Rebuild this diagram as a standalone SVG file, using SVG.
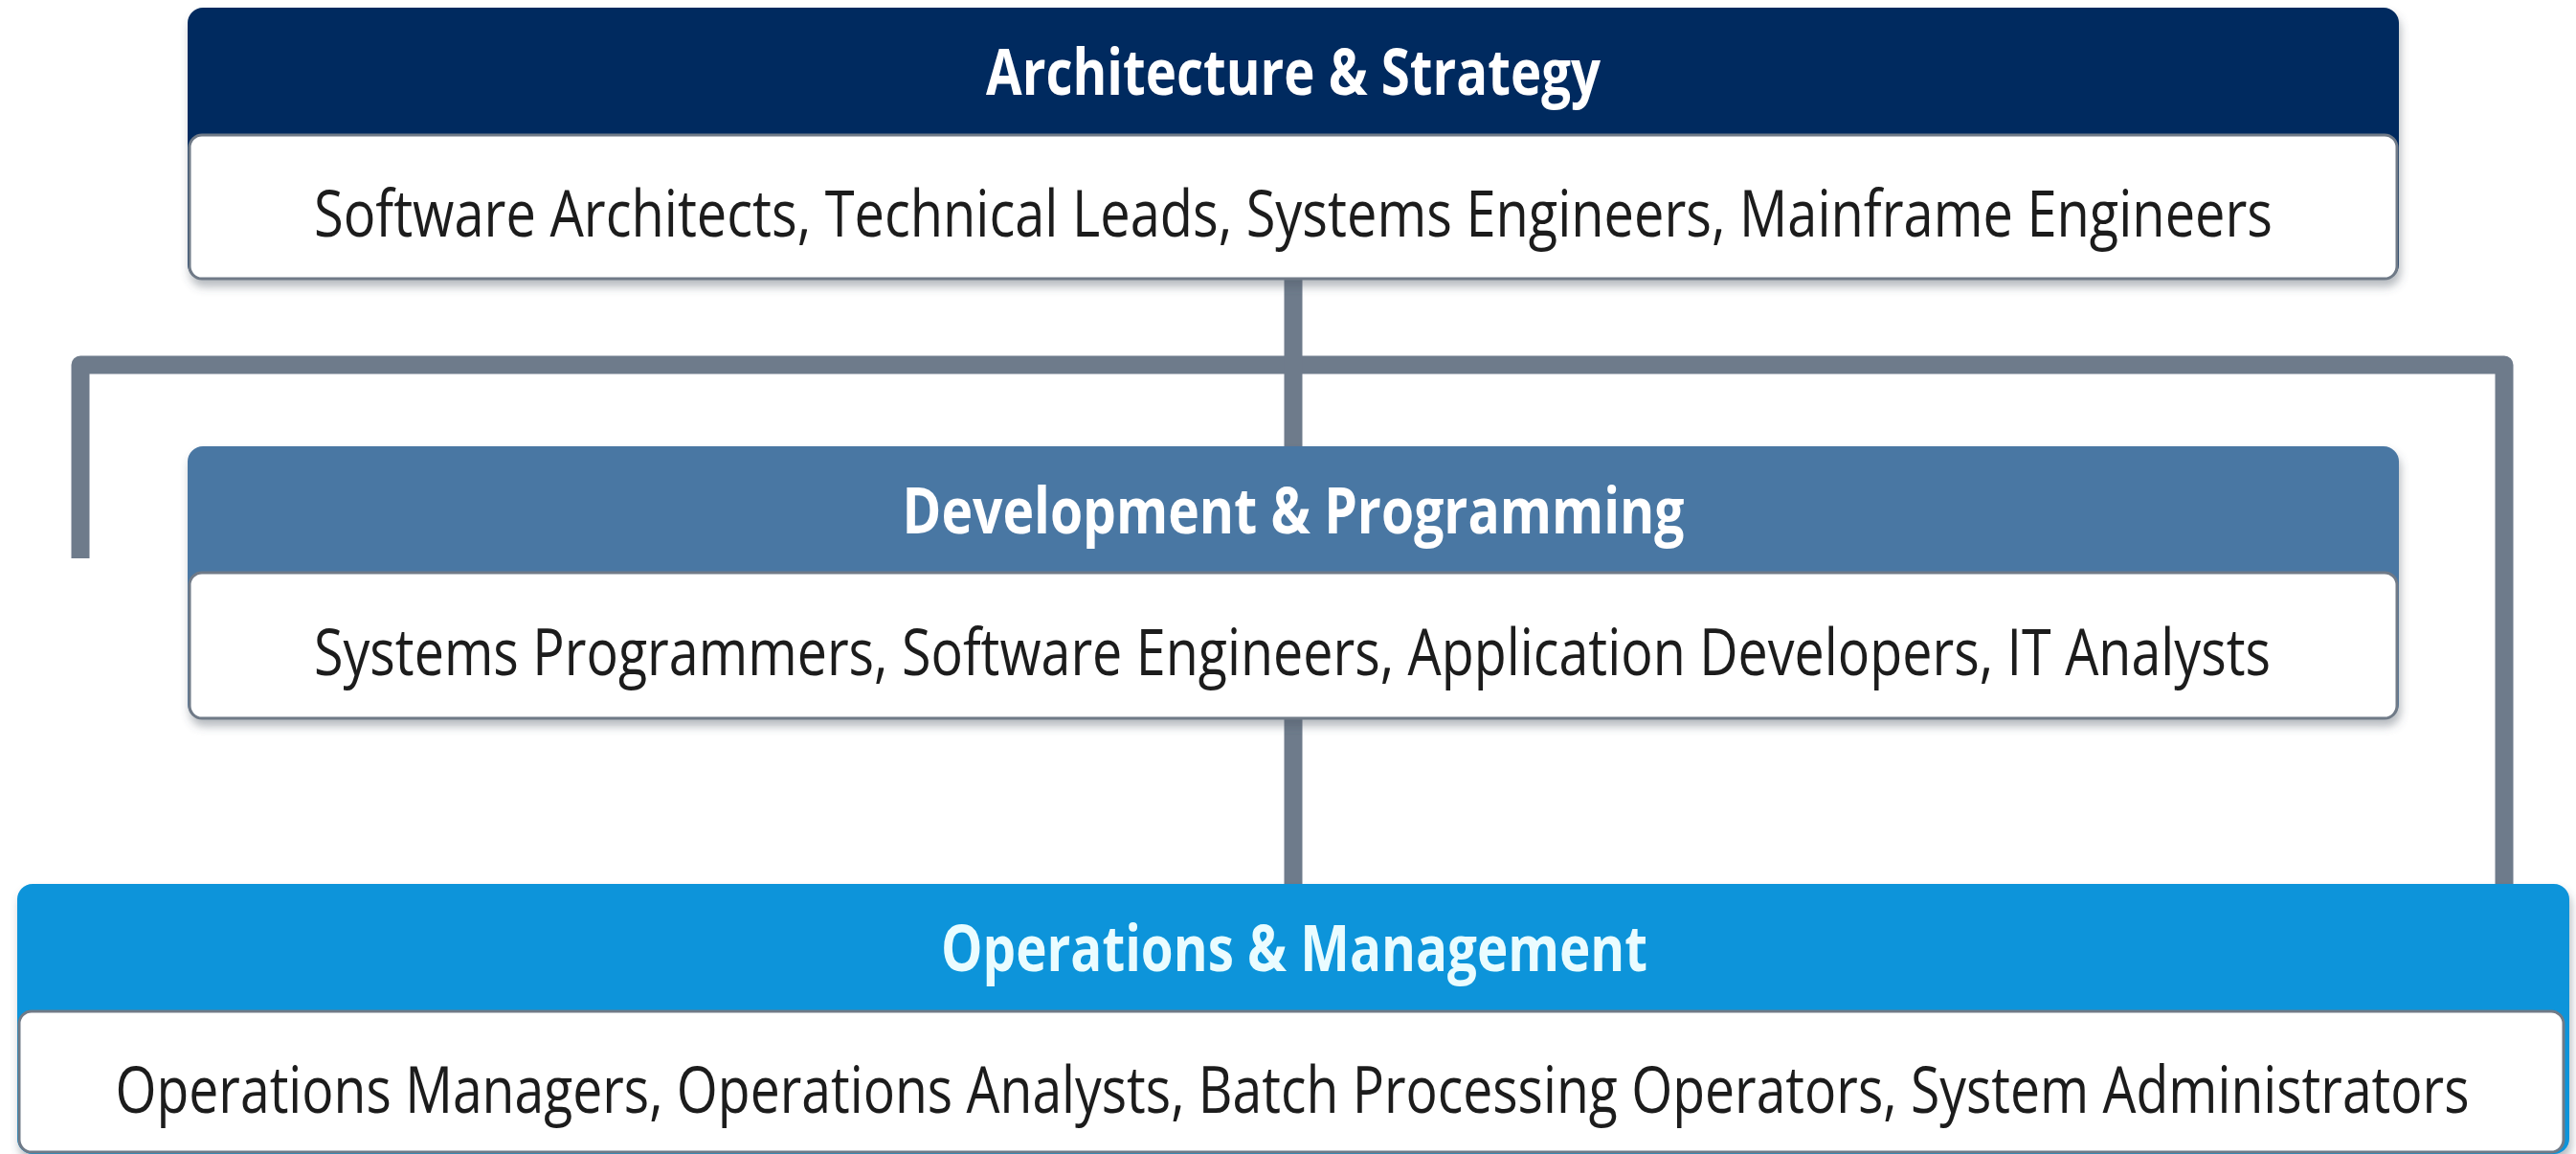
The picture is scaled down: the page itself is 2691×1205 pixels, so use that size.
<svg xmlns="http://www.w3.org/2000/svg" width="2691" height="1205" viewBox="0 0 2691 1205">
  <defs>
    <filter id="shadow" x="-5%" y="-20%" width="110%" height="150%">
      <feDropShadow dx="2" dy="7" stdDeviation="5" flood-color="#4a5460" flood-opacity="0.4"/>
    </filter>
    <style>
      .conn { fill: none; stroke: #6e7b8b; stroke-width: 19; stroke-linejoin: round; stroke-linecap: butt; }
      .body { fill: #ffffff; stroke: #6f7a87; stroke-width: 3; }
      .title { font-family: "Open Sans", "Noto Sans", "Liberation Sans", sans-serif; font-weight: 700; font-size: 57px; fill: #ffffff; text-anchor: middle; }
      .roles { font-family: "Open Sans", "Noto Sans", "Liberation Sans", sans-serif; font-weight: 400; font-size: 58px; fill: #1c1c1c; text-anchor: middle; }
    </style>
  </defs>
  <rect width="2691" height="1205" fill="#ffffff"/>

  <g id="connectors">
    <path class="conn" d="M84,583 V381 H2616 V923"/>
    <path class="conn" d="M1351,292 V466"/>
    <path class="conn" d="M1351,751 V923"/>
  </g>

  <g id="node-architecture" filter="url(#shadow)">
    <rect x="196" y="8" width="2310" height="284" rx="16" fill="#022a5e"/>
    <rect class="body" x="198" y="141" width="2306" height="150" rx="13"/>
    <text class="title" transform="translate(1351,99) scale(1,1.16)" x="0" y="0" textLength="642" lengthAdjust="spacingAndGlyphs">Architecture &amp; Strategy</text>
    <text class="roles" transform="translate(1351,247) scale(1,1.17)" x="0" y="0" textLength="2046" lengthAdjust="spacingAndGlyphs">Software Architects, Technical Leads, Systems Engineers, Mainframe Engineers</text>
  </g>

  <g id="node-development" filter="url(#shadow)">
    <rect x="196" y="466" width="2310" height="285" rx="16" fill="#4a77a3"/>
    <rect class="body" x="198" y="598" width="2306" height="152" rx="13"/>
    <text class="title" transform="translate(1351,557) scale(1,1.16)" x="0" y="0" textLength="817" lengthAdjust="spacingAndGlyphs">Development &amp; Programming</text>
    <text class="roles" transform="translate(1350,705) scale(1,1.17)" x="0" y="0" textLength="2044" lengthAdjust="spacingAndGlyphs">Systems Programmers, Software Engineers, Application Developers, IT Analysts</text>
  </g>

  <g id="node-operations" filter="url(#shadow)">
    <rect x="18" y="923" width="2666" height="282" rx="16" fill="#0894da"/>
    <rect class="body" x="20" y="1056" width="2658" height="147" rx="13"/>
    <text class="title" transform="translate(1352,1014) scale(1,1.16)" x="0" y="0" textLength="738" lengthAdjust="spacingAndGlyphs" style="fill:#eafcff">Operations &amp; Management</text>
    <text class="roles" transform="translate(1350,1162) scale(1,1.25)" x="0" y="0" textLength="2459" lengthAdjust="spacingAndGlyphs" style="font-size:54px">Operations Managers, Operations Analysts, Batch Processing Operators, System Administrators</text>
  </g>
</svg>
